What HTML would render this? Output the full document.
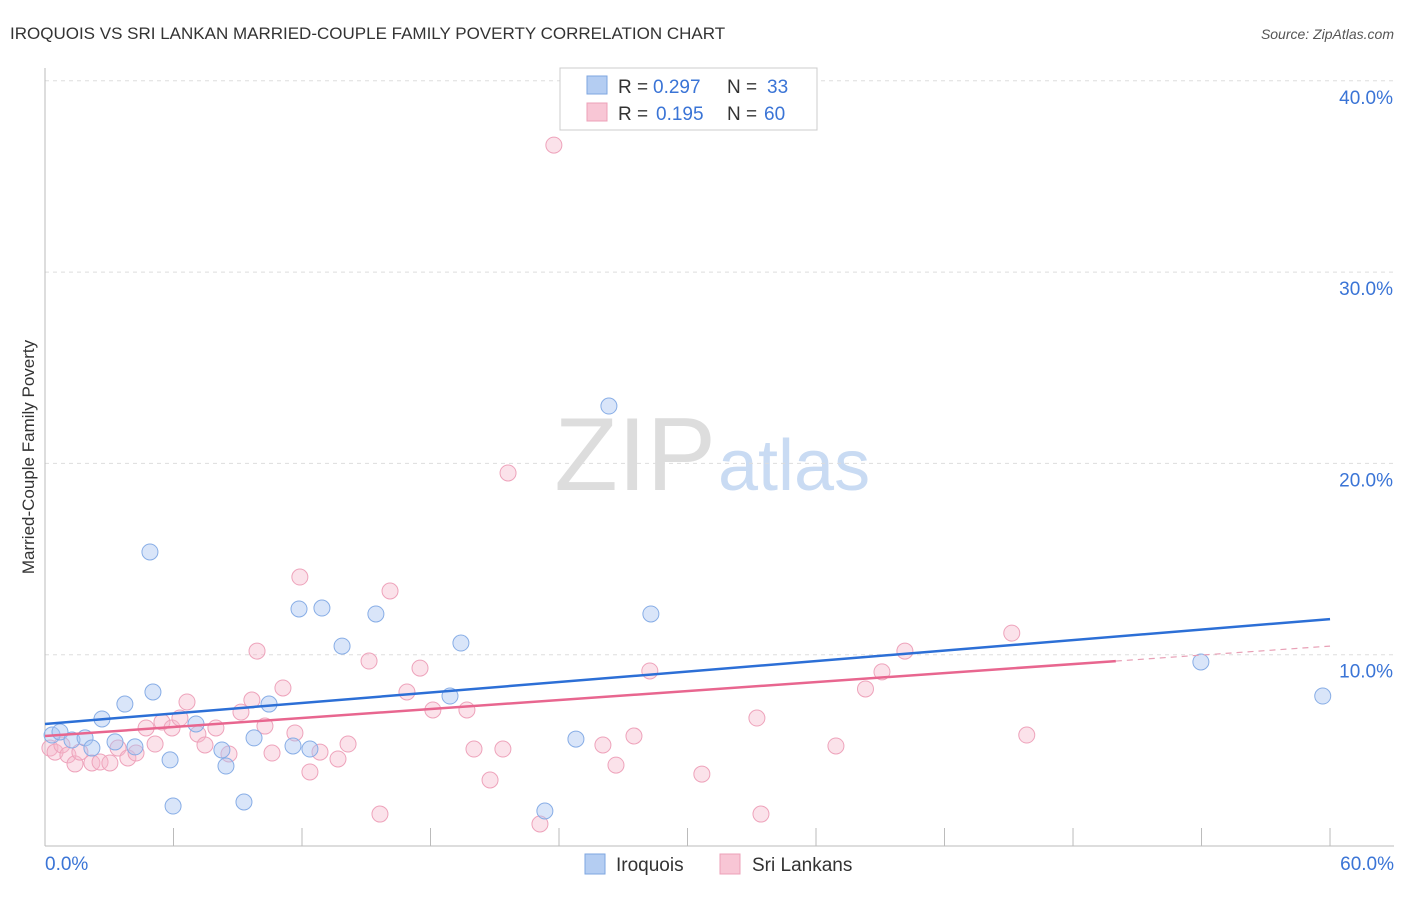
<!DOCTYPE html>
<html><head><meta charset="utf-8"><style>
body{margin:0;background:#fff;font-family:"Liberation Sans",sans-serif}
svg text{font-family:"Liberation Sans",sans-serif}
</style></head><body>
<svg id="c" width="1406" height="892">
<text x="10" y="39" font-size="17" fill="#333">IROQUOIS VS SRI LANKAN MARRIED-COUPLE FAMILY POVERTY CORRELATION CHART</text>
<text x="1394" y="39" font-size="14" fill="#555" font-style="italic" text-anchor="end">Source: ZipAtlas.com</text>
<text x="716" y="490" font-size="104" fill="#ddd" text-anchor="end" font-family="Liberation Serif">ZIP</text>
<text x="718" y="490" font-size="72" fill="#c9dbf3">atlas</text>
<text transform="translate(34,457) rotate(-90)" font-size="17" fill="#333" text-anchor="middle">Married-Couple Family Poverty</text>
<g id="grid"></g><g id="pts"></g><g id="lines"></g>
<g>
<rect x="560" y="68" width="257" height="62" fill="#fff" stroke="#ccc"/>
<rect x="587" y="76" width="20" height="18" fill="#b4cdf2" stroke="#7ea6e0"/>
<rect x="587" y="103" width="20" height="18" fill="#f8c6d5" stroke="#eda0b8"/>
<text x="618" y="93" font-size="19" fill="#333">R =</text>
<text x="653" y="93" font-size="19" fill="#3a74d6">0.297</text>
<text x="727" y="93" font-size="19" fill="#333">N =</text>
<text x="767" y="93" font-size="19" fill="#3a74d6">33</text>
<text x="618" y="120" font-size="19" fill="#333">R =</text>
<text x="656" y="120" font-size="19" fill="#3a74d6">0.195</text>
<text x="727" y="120" font-size="19" fill="#333">N =</text>
<text x="764" y="120" font-size="19" fill="#3a74d6">60</text>
</g>
<g>
<rect x="585" y="854" width="20" height="20" fill="#b4cdf2" stroke="#7ea6e0"/>
<text x="616" y="871" font-size="19" fill="#333">Iroquois</text>
<rect x="720" y="854" width="20" height="20" fill="#f8c6d5" stroke="#eda0b8"/>
<text x="752" y="871" font-size="19" fill="#333">Sri Lankans</text>
</g>
</svg>
<script>
const blueX=[0.33,0.70,1.26,1.87,2.19,2.66,3.27,3.73,4.20,4.90,5.04,5.84,5.98,7.05,8.26,8.45,9.29,9.76,10.46,11.58,11.86,12.37,12.93,13.87,15.45,18.91,19.42,23.34,24.79,26.33,28.29,53.97,59.66];
const blueY=[5.80,5.96,5.54,5.65,5.12,6.64,5.44,7.42,5.18,15.37,8.05,4.50,2.09,6.38,5.02,4.18,2.30,5.65,7.42,5.23,12.39,5.07,12.44,10.45,12.13,7.84,10.61,1.83,5.59,23.00,12.13,9.62,7.84];
const pinkX=[0.23,0.47,0.79,1.07,1.40,1.63,2.19,2.57,3.03,3.41,3.87,4.25,4.72,5.14,5.46,5.93,6.30,6.63,7.14,7.47,7.98,8.59,9.15,9.66,9.90,10.27,10.60,11.11,11.67,11.90,12.37,12.84,13.68,14.15,15.13,15.64,16.11,16.90,17.51,18.11,19.70,20.03,20.78,21.38,21.62,23.11,23.76,26.05,26.66,27.50,28.24,30.67,33.24,33.43,36.93,38.31,39.08,40.15,45.14,45.84];
const pinkY=[5.12,4.91,5.28,4.76,4.29,4.91,4.34,4.39,4.34,5.12,4.60,4.86,6.17,5.33,6.48,6.17,6.69,7.53,5.85,5.28,6.17,4.81,7.00,7.63,10.19,6.27,4.86,8.26,5.91,14.06,3.87,4.91,4.55,5.33,9.67,1.67,13.33,8.05,9.30,7.11,7.11,5.07,3.45,5.07,19.50,1.15,36.64,5.28,4.23,5.75,9.15,3.76,6.69,1.67,5.23,8.21,9.10,10.19,11.13,5.80];
const blueTrend=[6.38,11.86];
const pinkTrend=[5.75,10.45];
const yTicks=[10,20,30,40];
const xTickLabels=["0.0%","60.0%"];
const NS="http://www.w3.org/2000/svg";
const X=v=>45+v*21.417, Y=v=>846-v*19.13;
function mk(tag,attrs,parent){const e=document.createElementNS(NS,tag);for(const k in attrs)e.setAttribute(k,attrs[k]);parent.appendChild(e);return e;}
const grid=document.getElementById('grid'),pts=document.getElementById('pts'),lines=document.getElementById('lines');
yTicks.forEach(t=>{
 const l=mk('line',{x1:45,x2:1394,y1:Y(t),y2:Y(t),stroke:'#ddd','stroke-dasharray':'4,4'},grid);
 
 
 const tx=mk('text',{x:1393,y:Y(t)+23,'font-size':19,fill:'#3a74d6','text-anchor':'end'},grid);
 tx.textContent=t.toFixed(1)+'%';
 
 
});
const ax=mk('line',{x1:45,x2:45,y1:68,y2:846,stroke:'#bbb'},grid);


const bx=mk('line',{x1:45,x2:1394,y1:846,y2:846,stroke:'#bbb'},grid);


for(let i=0;i<=10;i++){
 const t=mk('line',{x1:X(i*6),x2:X(i*6),y1:828,y2:846,stroke:'#bbb'},grid);
 
 
}
[[0,'start',45],[60,'end',1394]].forEach((a,i)=>{
 const t=mk('text',{x:a[2],y:870,'font-size':19,fill:'#3a74d6','text-anchor':a[1]},grid);
 t.textContent=xTickLabels[i];
 
 
});
pinkX.forEach((v,i)=>{
 const c=mk('circle',{cx:X(v),cy:Y(pinkY[i]),r:8,fill:'rgba(246,182,202,0.4)',stroke:'#eea3bb','stroke-width':1},pts);
 
 
});
blueX.forEach((v,i)=>{
 const c=mk('circle',{cx:X(v),cy:Y(blueY[i]),r:8,fill:'rgba(170,198,242,0.45)',stroke:'#87ade6','stroke-width':1},pts);
 
 
});
const bl=mk('line',{x1:X(0),y1:Y(blueTrend[0]),x2:X(60),y2:Y(blueTrend[1]),stroke:'#2c6fd6','stroke-width':2.5},lines);


const pe=50, py=pinkTrend[0]+(pinkTrend[1]-pinkTrend[0])*pe/60;
const pl=mk('line',{x1:X(0),y1:Y(pinkTrend[0]),x2:X(pe),y2:Y(py),stroke:'#e8668f','stroke-width':2.5},lines);


const pd=mk('line',{x1:X(pe),y1:Y(py),x2:X(60),y2:Y(pinkTrend[1]),stroke:'#e8a0b6','stroke-width':1.2,'stroke-dasharray':'6,5'},lines);


</script>
</body></html>
